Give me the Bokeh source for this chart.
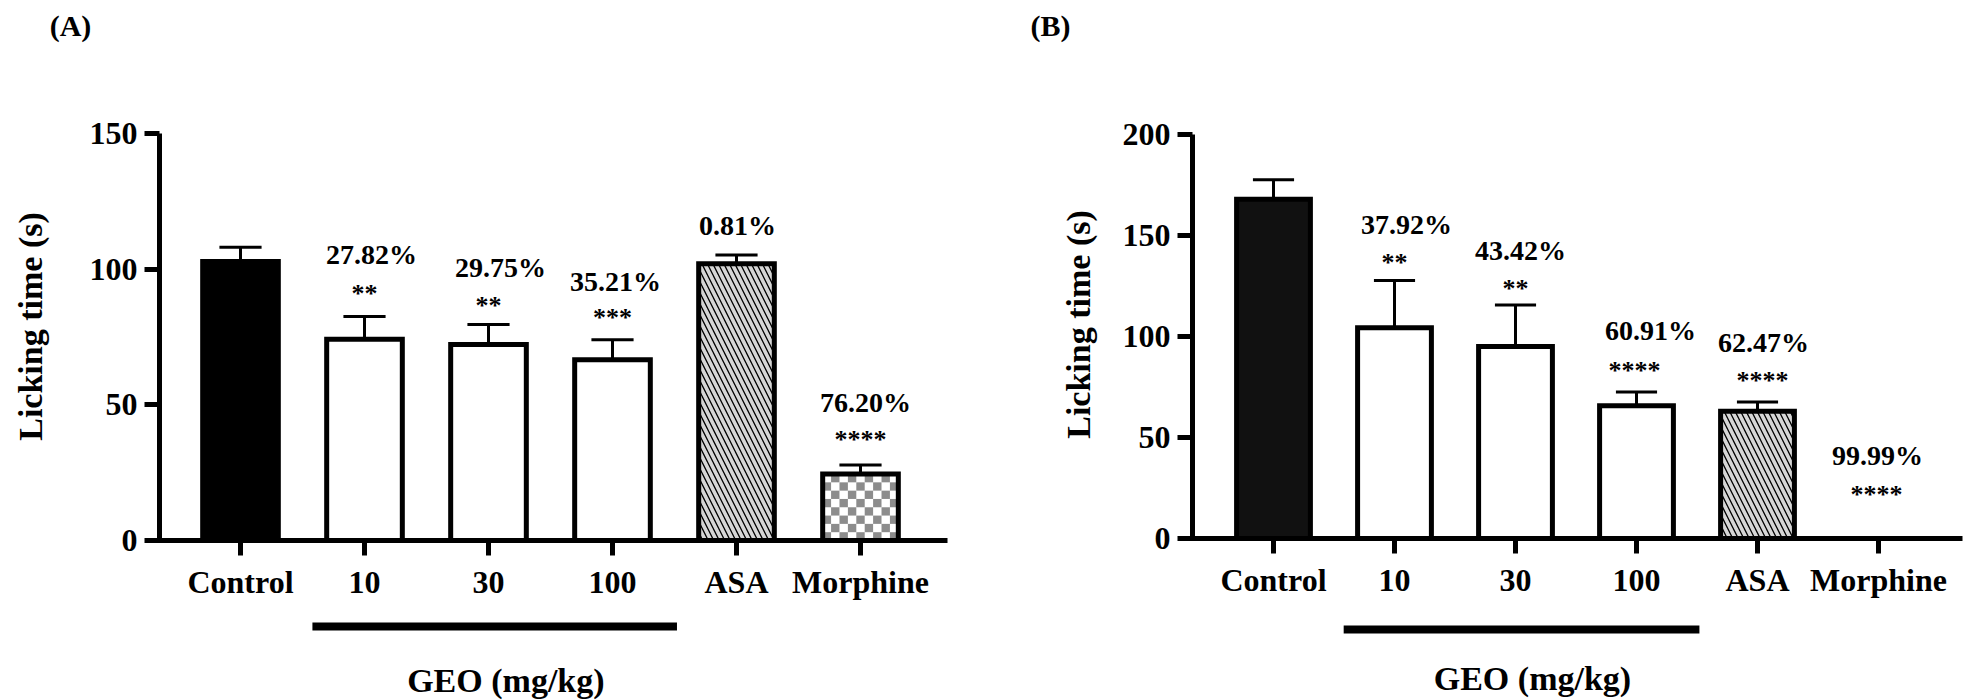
import numpy as np
from bokeh.plotting import figure
from bokeh.layouts import row
from bokeh.models import Range1d, FixedTicker
from bokeh.core.properties import value
from bokeh.embed import file_html
from bokeh.resources import INLINE

# ---------------- data ----------------
groups = ["Control", "10", "30", "100", "ASA", "Morphine"]

a_mean = [102.8, 74.2, 72.2, 66.6, 102.0, 24.5]
a_sem = [5.3, 8.4, 7.4, 7.4, 3.2, 3.3]
a_pct = ["", "27.82%", "29.75%", "35.21%", "0.81%", "76.20%"]
a_sig = ["", "**", "**", "***", "", "****"]
a_yticks = [0, 50, 100, 150]
a_ymax = 150

b_mean = [168.0, 104.3, 95.1, 65.7, 63.0, 0.02]
b_sem = [9.6, 23.4, 20.5, 6.8, 4.6, 0.0]
b_pct = ["", "37.92%", "43.42%", "60.91%", "62.47%", "99.99%"]
b_sig = ["", "**", "**", "****", "****", "****"]
b_yticks = [0, 50, 100, 150, 200]
b_ymax = 200

geo_label = "GEO (mg/kg)"
y_label = "Licking time (s)"

# ---------------- styles / layout ----------------
FONT = "Liberation Serif"
FIG_TOP, FIG_H = 0, 700
BAR_W = 0.61
CAP_W = 0.34
CELL = 8

cfg_a = dict(letter="(A)", fig_left=0, width=998, cat0=240, cat5=860, y0=540, ytop=133,
             ax_left=159, ax_right=947, ylab=(30, 326), letter_xy=(70, 25),
             fills=["#000000", "white", "white", "white", "#d6d6d6", "white"],
             pct_gap=[0, 62, 57, 58, 30, 63], sig_gap=[0, 23, 19, 22, 0, 26],
             pct_dx=[0, 7, 12, 3, 1, 5], sig_dx=[0, 0, 0, 0, 0, 0],
             geo_y=626, geo_base=680)
cfg_b = dict(letter="(B)", fig_left=998, width=970, cat0=1273, cat5=1878, y0=538, ytop=134,
             ax_left=1192, ax_right=1962, ylab=(1078, 324), letter_xy=(1050, 25),
             fills=["#111111", "white", "white", "white", "#d6d6d6", "white"],
             pct_gap=[0, 56, 54.5, 61.5, 59, 83], sig_gap=[0, 18, 16.5, 21.5, 21, 44],
             pct_dx=[0, 12, 5, 14, 6, -1], sig_dx=[0, 0, 0, -2, 5, -2],
             geo_y=629, geo_base=678)


def make_panel(mean, sem, pct, sig, yticks, ymax, cfg):
    ppx = (cfg["cat5"] - cfg["cat0"]) / 5.0
    ppy = (cfg["y0"] - cfg["ytop"]) / float(ymax)
    X = lambda px: (px - cfg["cat0"]) / ppx
    Y = lambda py: (cfg["y0"] - py) / ppy
    W = cfg["width"]
    p = figure(width=W, height=FIG_H,
               x_range=Range1d(X(cfg["fig_left"]), X(cfg["fig_left"] + W)),
               y_range=Range1d(Y(FIG_TOP + FIG_H), Y(FIG_TOP)),
               output_backend="svg", toolbar_location=None, min_border=0,
               outline_line_color=None, background_fill_color="white",
               border_fill_color="white")
    p.grid.visible = False

    xa = p.xaxis[0]
    ya = p.yaxis[0]
    xa.fixed_location = 0
    ya.fixed_location = X(cfg["ax_left"])
    xa.ticker = FixedTicker(ticks=list(range(len(groups))))
    xa.major_label_overrides = {i: g for i, g in enumerate(groups)}
    ya.ticker = FixedTicker(ticks=yticks)
    xa.bounds = (X(cfg["ax_left"] - 2.5), X(cfg["ax_right"]))
    ya.bounds = (0, ymax)
    for ax in (xa, ya):
        ax.axis_line_width = 5
        ax.axis_line_color = "black"
        ax.major_tick_line_width = 5
        ax.major_tick_line_color = "black"
        ax.major_tick_out = 15
        ax.major_tick_in = 0
        ax.minor_tick_line_color = None
        ax.major_label_text_font = FONT
        ax.major_label_text_font_style = "bold"
        ax.major_label_text_font_size = "32px"
        ax.major_label_text_color = "black"
    xa.major_label_standoff = 8
    ya.major_label_standoff = 7

    idx = np.arange(len(groups))
    m = np.array(mean, dtype=float)
    s = np.array(sem, dtype=float)

    # fills
    p.vbar(x=idx, top=m, bottom=0, width=BAR_W, fill_color=cfg["fills"], line_color=None)
    # ASA hatch
    p.vbar(x=[4], top=[m[4]], bottom=0, width=BAR_W, fill_color=None, line_color=None,
           hatch_pattern="\\", hatch_color="black", hatch_scale=11, hatch_weight=1.3)
    # Morphine checkerboard
    bw_px = BAR_W * ppx
    bh_px = m[5] * ppy
    if bh_px > CELL:
        nx = max(1, int(round(bw_px / CELL)))
        ny = max(1, int(round(bh_px / CELL)))
        xe = np.linspace(5 - BAR_W / 2, 5 + BAR_W / 2, nx + 1)
        ye = np.linspace(0, m[5], ny + 1)
        L, R, B, T = [], [], [], []
        for i in range(nx):
            for j in range(ny):
                if (i + j) % 2 == 0:
                    L.append(xe[i]); R.append(xe[i + 1]); B.append(ye[j]); T.append(ye[j + 1])
        p.quad(left=L, right=R, bottom=B, top=T, fill_color="#8c8c8c", line_color=None)
    # outlines
    p.vbar(x=idx, top=m, bottom=0, width=BAR_W, fill_color=None, line_color="black",
           line_width=5, line_join="miter")
    # error bars (upper only)
    k = s > 0
    p.segment(x0=idx[k], y0=m[k], x1=idx[k], y1=(m + s)[k], line_width=3, line_color="black")
    p.segment(x0=idx[k] - CAP_W / 2, x1=idx[k] + CAP_W / 2, y0=(m + s)[k], y1=(m + s)[k],
              line_width=3, line_color="black")

    # annotations
    cap = m + s
    px_, py_, pt_ = [], [], []
    sx_, sy_, st_ = [], [], []
    for i in range(len(groups)):
        if pct[i]:
            px_.append(i + cfg["pct_dx"][i] / ppx)
            py_.append(cap[i] + cfg["pct_gap"][i] / ppy)
            pt_.append(pct[i])
        if sig[i]:
            sx_.append(i + cfg["sig_dx"][i] / ppx)
            sy_.append(cap[i] + cfg["sig_gap"][i] / ppy)
            st_.append(sig[i])
    p.text(x=px_, y=py_, text=pt_, text_font=value(FONT), text_font_style="bold",
           text_font_size="28px", text_align="center", text_baseline="middle", text_color="black")
    p.text(x=sx_, y=sy_, text=st_, text_font=value(FONT), text_font_style="bold",
           text_font_size="26px", text_align="center", text_baseline="middle", text_color="black")

    # y label
    p.text(x=[X(cfg["ylab"][0])], y=[Y(cfg["ylab"][1])], text=[y_label], angle=np.pi / 2,
           text_font=value(FONT), text_font_style="bold", text_font_size="34px",
           text_align="center", text_baseline="middle", text_color="black")
    # panel letter
    p.text(x=[X(cfg["letter_xy"][0])], y=[Y(cfg["letter_xy"][1])], text=[cfg["letter"]],
           text_font=value(FONT), text_font_style="bold", text_font_size="30px",
           text_align="center", text_baseline="middle", text_color="black")
    # GEO group bar and label (spanning groups "10".."100")
    gy = Y(cfg["geo_y"])
    p.segment(x0=[1 - 0.42], x1=[3 + 0.52], y0=[gy], y1=[gy], line_width=8, line_color="black")
    p.text(x=[2.14], y=[Y(cfg["geo_base"])], text=[geo_label], text_font=value(FONT),
           text_font_style="bold", text_font_size="34px", text_align="center",
           text_baseline="alphabetic", text_color="black")
    return p


pa = make_panel(a_mean, a_sem, a_pct, a_sig, a_yticks, a_ymax, cfg_a)
pb = make_panel(b_mean, b_sem, b_pct, b_sig, b_yticks, b_ymax, cfg_b)
layout = row(pa, pb)
open("out.html", "w").write(file_html(layout, INLINE))
